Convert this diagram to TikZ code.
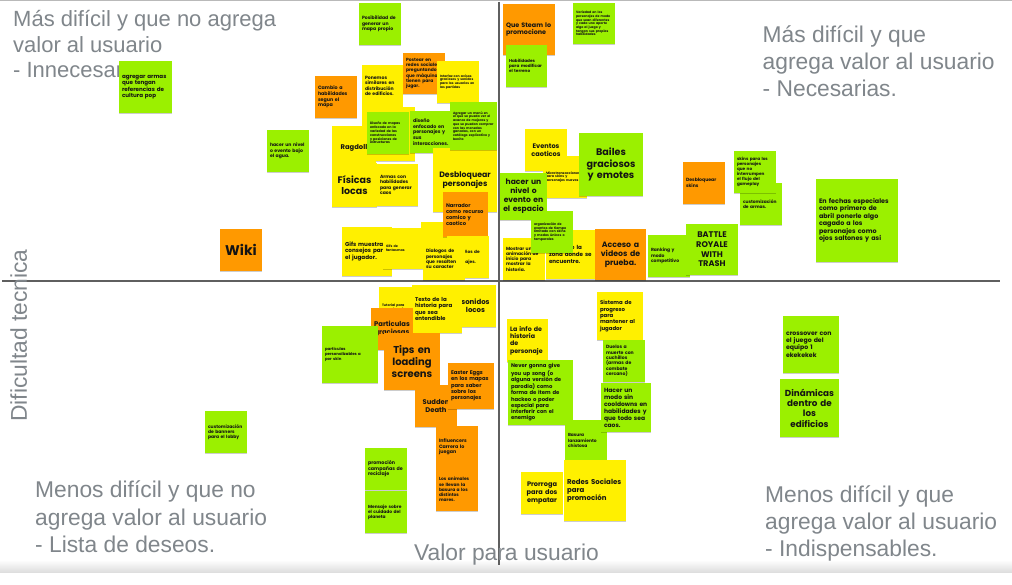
\documentclass[tikz,border=0pt]{standalone}
\usepackage{fontspec}
\setmainfont{Liberation Sans}
\newfontfamily\notefont{Poppins}
\newfontfamily\labelfont{Liberation Sans}
\usetikzlibrary{shadows}
\hyphenpenalty=10000
\exhyphenpenalty=10000
\definecolor{stickgreen}{RGB}{155,240,0}
\definecolor{stickyellow}{RGB}{255,240,0}
\definecolor{stickorange}{RGB}{255,153,0}
\definecolor{labelgray}{RGB}{128,134,139}
\definecolor{axisgray}{RGB}{95,95,95}
\definecolor{ink}{RGB}{20,20,20}
\tikzset{
  note/.style={anchor=north west, inner sep=0pt, outer sep=0pt, align=left, text=ink,
    drop shadow={shadow xshift=0.4pt, shadow yshift=-0.9pt, opacity=0.2, fill=black}},
  grn/.style={note, fill=stickgreen},
  yel/.style={note, fill=stickyellow},
  orng/.style={note, fill=stickorange},
  sz/.code 2 args={\pgfmathsetmacro\notetw{#1-6}\tikzset{minimum width=#1pt, minimum height=#2pt, text width=\notetw pt}},
  fs/.code={\pgfmathsetmacro\notebs{#1*1.17}\tikzset{font=\notefont\bfseries\fontsize{#1}{\notebs}\selectfont}},
  ctr/.style={align=center},
  quad/.style={anchor=base west, inner sep=0pt, text=labelgray, font=\labelfont\fontsize{22.8}{27}\selectfont},
  axisline/.style={draw=axisgray, line width=1.2pt},
}
\begin{document}
\begin{tikzpicture}[x=1pt,y=-1pt]
\useasboundingbox (0,0) rectangle (1012,585);
\fill[white] (0,0) rectangle (1012,585);
\draw[gray!55, line width=1.5pt] (0,0.75) -- (1012,0.75);
\shade[top color=white, bottom color=black!13] (0,560) rectangle (1012,572);
% axes
\coordinate (vtop) at (499,2);
\coordinate (vbot) at (499,565);
\coordinate (hleft) at (2,281);
\coordinate (hright) at (1000,281);
\draw[axisline] (vtop) -- (vbot);
\draw[axisline] (hleft) -- (hright);
% quadrant labels
\node[quad, font=\labelfont\fontsize{22}{26}\selectfont] (tl1) at (13,27) {Más difícil y que no agrega};
\node[quad, font=\labelfont\fontsize{22}{26}\selectfont] (tl2) at (13,52.5) {valor al usuario};
\node[quad, font=\labelfont\fontsize{22}{26}\selectfont] (tl3) at (13,78) {- Innecesarias.};
\node[quad] (tr1) at (762.5,43) {Más difícil y que};
\node[quad] (tr2) at (762.5,70) {agrega valor al usuario};
\node[quad] (tr3) at (762.5,97) {- Necesarias.};
\node[quad] (bl1) at (35,497.5) {Menos difícil y que no};
\node[quad] (bl2) at (35,525) {agrega valor al usuario};
\node[quad] (bl3) at (35,552) {- Lista de deseos.};
\node[quad] (br1) at (765,502) {Menos difícil y que};
\node[quad] (br2) at (765,529) {agrega valor al usuario};
\node[quad] (br3) at (765,556) {- Indispensables.};
\node[quad] (xlab) at (414,560) {Valor para usuario};
\node[quad, rotate=90] (ylab) at (27,422) {Dificultad tecnica};
% ---------- top left ----------
\node[grn, sz={42}{42}, fs=4.6] (mapapropio) at (359,3) {Posibilidad de\\generar un\\mapa propio};
\node[grn, sz={53}{52}, fs=5.6] (culturapop) at (119,61) {agregar armas\\que tengan\\referencias de\\cultura pop};
\node[orng, sz={42}{42}, fs=4.8] (cambiohab) at (315,76) {Cambio a\\habilidades\\segun el mapa};
\node[yel, sz={41}{42}, fs=4.6] (edificios) at (362,65) {Ponemos\\similares en\\distribución\\de edificios.};
\node[orng, sz={42}{41}, fs=4.5] (redes) at (403,53) {Postear en\\redes sociales\\preguntando\\que máquina\\tienen para\\jugar.};
\node[yel, sz={42}{42}, fs=3.2] (tinya) at (437,61) {Interfaz con avisos graciosos y sonidos para los usuarios en las partidas};
\node[grn, sz={42}{42}, fs=4.6] (bajoagua) at (267,130) {hacer un nivel\\o evento bajo\\el agua.};
\node[yel, sz={53}{54}] (yelc) at (362,107) {};
\node[yel, sz={44}{44}, fs=6.8, ctr] (ragdoll) at (332,126) {Ragdoll};
\node[grn, sz={42}{42}, fs=3.3] (disenomapas) at (367,112) {Diseño de mapas enfocado en la variedad de las construcciones y posiciones de estructuras};
\node[grn, sz={41}{42}, fs=4.8] (disenopers) at (410,111) {diseño\\enfocado en\\personajes y\\sus\\interacciones.};
\node[yel, sz={64}{64}, fs=7.8, ctr] (desbloqpers) at (433,148) {Desbloquear\\personajes};
\node[grn, sz={47}{48}, fs=3.2] (menu) at (450,102) {Agregar un menú en el que se pueda ver el avance de mejoras y que se puedan comprar con las monedas ganadas, con un catálogo explicativo y bonito};
\node[yel, sz={45}{44}, fs=9.5, ctr] (fisicas) at (332,163) {Físicas\\locas};
\node[yel, sz={41}{42}, fs=4.6] (armascaos) at (377,164) {Armas con\\habilidades\\para generar\\caos};
\node[yel, sz={42}{43}, fs=3.2] (yela) at (421,222) {Voces de los personajes};
\node[orng, sz={45}{45}, fs=5.2] (narrador) at (443,192) {Narrador\\como recurso\\comico y\\caotico};
\node[orng, sz={42}{42}, fs=14, ctr] (wiki) at (220,229) {Wiki};
\node[yel, sz={50}{49}, fs=5.7] (gifs) at (342,227) {Gifs muestran\\consejos para\\el jugador.};
\node[yel, sz={42}{41}, fs=3.3] (fantasmas) at (383,228) {Gifs de\\fantasmas};
\node[yel, sz={42}{42}, fs=4.3] (rediseno) at (447,236) {Rediseños de los\\personajes.};
\node[yel, sz={42}{42}, fs=4.6] (dialogos) at (423,238) {Dialogos de\\personajes\\que resalten\\su caracter};
% ---------- top right ----------
\node[orng, sz={52}{51}, fs=6.4] (steam) at (503,4) {Que Steam lo\\promocione};
\node[grn, sz={41}{42}, fs=4.2] (terreno) at (506,45) {Habilidades\\para modificar\\el terreno};
\node[grn, sz={42}{41}, fs=3.2] (variedad) at (573,3) {Variedad en los personajes de modo que sean diferentes y cada uno aporte algo al juego y tengan sus propias habilidades};
\node[yel, sz={42}{42}, fs=6.6, ctr] (eventos) at (525,129) {Eventos\\caoticos};
\node[yel, sz={44}{42}, fs=3.3] (microtrans) at (543,156) {Microtransacciones para skins y personajes nuevos};
\node[grn, sz={64}{63}, fs=9.6, ctr] (bailes) at (579,133) {Bailes\\graciosos\\y emotes};
\node[grn, sz={47}{47}, fs=7.6, ctr] (espacio) at (500,173) {hacer un\\nivel o\\evento en\\el espacio};
\node[yel, sz={42}{42}, fs=4.5] (animacion) at (503,238) {Mostrar una\\animación de\\inicio para\\mostrar la\\historia.};
\node[yel, sz={50}{49}, fs=5.6] (zona) at (546,230) {Mapa de la\\zona donde se\\encuentre.};
\node[grn, sz={42}{42}, fs=3.3] (temporada) at (531,211) {organización de eventos de tiempo limitado con skins y modos únicos o temporales};
\node[orng, sz={51}{51}, fs=7.8, ctr] (videos) at (595,229) {Acceso a\\videos de\\prueba.};
\node[grn, sz={42}{42}, fs=4.5] (ranking) at (648,235) {Ranking y\\modo\\competitivo};
\node[grn, sz={52}{51}, fs=8.2, ctr] (battle) at (686,224) {BATTLE\\ROYALE\\WITH\\TRASH};
\node[orng, sz={42}{42}, fs=4.6] (desbloqskins) at (683,162) {Desbloquear\\skins};
\node[grn, sz={42}{42}, fs=4.4] (armascustom) at (740,183) {customización\\de armas.};
\node[grn, sz={42}{42}, fs=4.2] (skinsflujo) at (734,151) {skins para los\\personajes\\que no\\interrumpen\\el flujo del\\gameplay};
\node[grn, sz={82}{83}, fs=6.4] (fechas) at (816,179) {En fechas especiales\\como primero de\\abril ponerle algo\\cagado a los\\personajes como\\ojos saltones y asi};
% ---------- bottom left ----------
\node[yel, sz={40}{42}, fs=3.3] (tutorial) at (379,287) {Tutorial para\\aprender a jugar};
\node[yel, sz={41}{42}, fs=7, ctr] (sonidos) at (455,285) {sonidos\\locos};
\node[yel, sz={50}{48}, fs=5.5] (texto) at (412,285) {Texto de la\\historia para\\que sea\\entendible};
\node[orng, sz={42}{42}, fs=6.8, ctr] (particulas) at (371,308) {Particulas\\graciosas};
\node[grn, sz={56}{57}, fs=3.9] (partskin) at (322,326) {particulas\\personalizables a\\por skin};
\node[orng, sz={56}{57}, fs=10, ctr] (tips) at (384,333) {Tips en\\loading\\screens};
\node[orng, sz={42}{42}, fs=6.8, ctr] (sudden) at (415,385) {Sudden\\Death};
\node[orng, sz={46}{46}, fs=5.3] (easter) at (448,363) {Easter Eggs\\en los mapas\\para saber\\sobre los\\personajes};
\node[grn, sz={42}{42}, fs=4.5] (banners) at (205,411) {customización\\de banners\\para el lobby};
\node[orng, sz={42}{42}, fs=4.8] (influencers) at (436,426) {Influencers\\Carrera lo\\juegan};
\node[orng, sz={42}{43}, fs=4.4] (animales) at (436,468) {Los animales\\se llevan la\\basura a los\\distintos\\mares.};
\node[grn, sz={42}{42}, fs=4.8] (reciclaje) at (365,448) {promoción\\campañas de\\reciclaje};
\node[grn, sz={42}{42}, fs=4.4] (planeta) at (365,491) {Mensaje sobre\\el cuidado del\\planeta};
% ---------- bottom right ----------
\node[yel, sz={46}{48}, fs=5.4] (progreso) at (597,292) {Sistema de\\progreso para\\mantener al\\jugador};
\node[yel, sz={41}{43}, fs=6.3] (infohist) at (507,319) {La info de\\historia de\\personaje};
\node[grn, sz={42}{42}, fs=4.6] (duelos) at (603,340) {Duelos a\\muerte con\\cuchillos\\(armas de\\combate\\cercano)};
\node[grn, sz={65}{65}, fs=5.3] (rickroll) at (508,360) {Never gonna give\\you up song (o\\alguna versión de\\parodia) como\\forma de item de\\hackeo o poder\\especial para\\interferir con el\\enemigo};
\node[grn, sz={42}{41}, fs=4.4] (basura) at (565,420) {Basura\\lanzamiento\\chistosa};
\node[grn, sz={50}{49}, fs=6] (cooldowns) at (601,383) {Hacer un\\modo sin\\cooldowns en\\habilidades y\\que todo sea\\caos.};
\node[yel, sz={42}{42}, fs=6.6, ctr] (prorroga) at (521,472) {Prorroga\\para dos\\empatar};
\node[yel, sz={62}{61}, fs=7] (redessoc) at (564,460) {Redes Sociales\\para\\promoción};
\node[grn, sz={56}{57}, fs=6.2] (crossover) at (783,316) {crossover con\\el juego del\\equipo 1\\ekekekek};
\node[grn, sz={59}{58}, fs=8.8, ctr] (dinamicas) at (780,379) {Dinámicas\\dentro de\\los\\edificios};
\end{tikzpicture}
\end{document}
